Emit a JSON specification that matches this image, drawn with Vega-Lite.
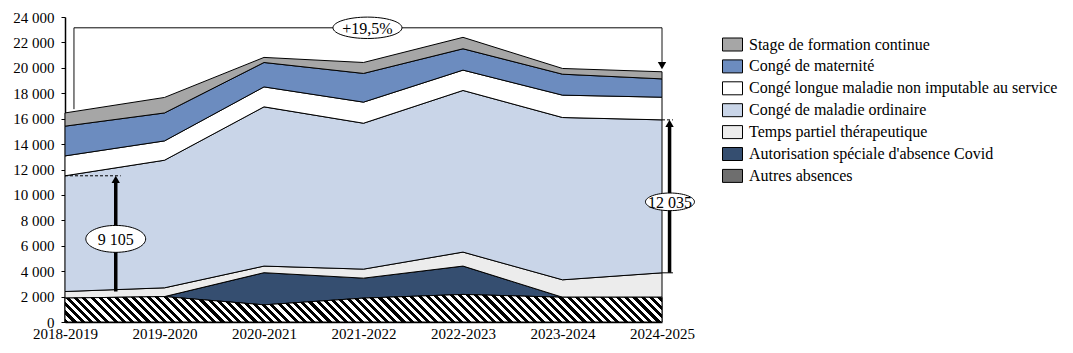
{
  "$schema": "https://vega.github.io/schema/vega-lite/v6.json",
  "autosize": {"type": "none"},
  "padding": {"left": 65, "top": 17, "right": 411, "bottom": 31},
  "width": 597,
  "height": 305,
  "background": "white",
  "config": {
    "view": {"stroke": null},
    "font": "Liberation Serif",
    "axis": {"labelFont": "Liberation Serif", "labelColor": "black", "domainColor": "black", "tickColor": "black", "grid": false},
    "axisY": {"labelOverlap": false, "labelSeparation": 0},
    "legend": {"labelFont": "Liberation Serif", "labelColor": "black"}
  },
  "resolve": {"scale": {"shape": "independent", "size": "independent", "strokeDash": "independent"}},
  "datasets": {
    "absences": [
      {"t": 0, "annee": "2018-2019", "serie": "Autres absences", "ordre": 1, "valeur": 1880},
      {"t": 1, "annee": "2019-2020", "serie": "Autres absences", "ordre": 1, "valeur": 2000},
      {"t": 2, "annee": "2020-2021", "serie": "Autres absences", "ordre": 1, "valeur": 1350},
      {"t": 3, "annee": "2021-2022", "serie": "Autres absences", "ordre": 1, "valeur": 1880},
      {"t": 4, "annee": "2022-2023", "serie": "Autres absences", "ordre": 1, "valeur": 2170},
      {"t": 5, "annee": "2023-2024", "serie": "Autres absences", "ordre": 1, "valeur": 1950},
      {"t": 6, "annee": "2024-2025", "serie": "Autres absences", "ordre": 1, "valeur": 1950},
      {"t": 0, "annee": "2018-2019", "serie": "Autorisation spéciale d'absence Covid", "ordre": 2, "valeur": 0},
      {"t": 1, "annee": "2019-2020", "serie": "Autorisation spéciale d'absence Covid", "ordre": 2, "valeur": 0},
      {"t": 2, "annee": "2020-2021", "serie": "Autorisation spéciale d'absence Covid", "ordre": 2, "valeur": 2530},
      {"t": 3, "annee": "2021-2022", "serie": "Autorisation spéciale d'absence Covid", "ordre": 2, "valeur": 1570},
      {"t": 4, "annee": "2022-2023", "serie": "Autorisation spéciale d'absence Covid", "ordre": 2, "valeur": 2230},
      {"t": 5, "annee": "2023-2024", "serie": "Autorisation spéciale d'absence Covid", "ordre": 2, "valeur": 0},
      {"t": 6, "annee": "2024-2025", "serie": "Autorisation spéciale d'absence Covid", "ordre": 2, "valeur": 0},
      {"t": 0, "annee": "2018-2019", "serie": "Temps partiel thérapeutique", "ordre": 3, "valeur": 520},
      {"t": 1, "annee": "2019-2020", "serie": "Temps partiel thérapeutique", "ordre": 3, "valeur": 690},
      {"t": 2, "annee": "2020-2021", "serie": "Temps partiel thérapeutique", "ordre": 3, "valeur": 520},
      {"t": 3, "annee": "2021-2022", "serie": "Temps partiel thérapeutique", "ordre": 3, "valeur": 710},
      {"t": 4, "annee": "2022-2023", "serie": "Temps partiel thérapeutique", "ordre": 3, "valeur": 1100},
      {"t": 5, "annee": "2023-2024", "serie": "Temps partiel thérapeutique", "ordre": 3, "valeur": 1370},
      {"t": 6, "annee": "2024-2025", "serie": "Temps partiel thérapeutique", "ordre": 3, "valeur": 1920},
      {"t": 0, "annee": "2018-2019", "serie": "Congé de maladie ordinaire", "ordre": 4, "valeur": 9105},
      {"t": 1, "annee": "2019-2020", "serie": "Congé de maladie ordinaire", "ordre": 4, "valeur": 10040},
      {"t": 2, "annee": "2020-2021", "serie": "Congé de maladie ordinaire", "ordre": 4, "valeur": 12530},
      {"t": 3, "annee": "2021-2022", "serie": "Congé de maladie ordinaire", "ordre": 4, "valeur": 11480},
      {"t": 4, "annee": "2022-2023", "serie": "Congé de maladie ordinaire", "ordre": 4, "valeur": 12720},
      {"t": 5, "annee": "2023-2024", "serie": "Congé de maladie ordinaire", "ordre": 4, "valeur": 12770},
      {"t": 6, "annee": "2024-2025", "serie": "Congé de maladie ordinaire", "ordre": 4, "valeur": 12035},
      {"t": 0, "annee": "2018-2019", "serie": "Congé longue maladie non imputable au service", "ordre": 5, "valeur": 1565},
      {"t": 1, "annee": "2019-2020", "serie": "Congé longue maladie non imputable au service", "ordre": 5, "valeur": 1520},
      {"t": 2, "annee": "2020-2021", "serie": "Congé longue maladie non imputable au service", "ordre": 5, "valeur": 1570},
      {"t": 3, "annee": "2021-2022", "serie": "Congé longue maladie non imputable au service", "ordre": 5, "valeur": 1660},
      {"t": 4, "annee": "2022-2023", "serie": "Congé longue maladie non imputable au service", "ordre": 5, "valeur": 1600},
      {"t": 5, "annee": "2023-2024", "serie": "Congé longue maladie non imputable au service", "ordre": 5, "valeur": 1760},
      {"t": 6, "annee": "2024-2025", "serie": "Congé longue maladie non imputable au service", "ordre": 5, "valeur": 1785},
      {"t": 0, "annee": "2018-2019", "serie": "Congé de maternité", "ordre": 6, "valeur": 2340},
      {"t": 1, "annee": "2019-2020", "serie": "Congé de maternité", "ordre": 6, "valeur": 2200},
      {"t": 2, "annee": "2020-2021", "serie": "Congé de maternité", "ordre": 6, "valeur": 1920},
      {"t": 3, "annee": "2021-2022", "serie": "Congé de maternité", "ordre": 6, "valeur": 2260},
      {"t": 4, "annee": "2022-2023", "serie": "Congé de maternité", "ordre": 6, "valeur": 1680},
      {"t": 5, "annee": "2023-2024", "serie": "Congé de maternité", "ordre": 6, "valeur": 1650},
      {"t": 6, "annee": "2024-2025", "serie": "Congé de maternité", "ordre": 6, "valeur": 1440},
      {"t": 0, "annee": "2018-2019", "serie": "Stage de formation continue", "ordre": 7, "valeur": 1040},
      {"t": 1, "annee": "2019-2020", "serie": "Stage de formation continue", "ordre": 7, "valeur": 1220},
      {"t": 2, "annee": "2020-2021", "serie": "Stage de formation continue", "ordre": 7, "valeur": 400},
      {"t": 3, "annee": "2021-2022", "serie": "Stage de formation continue", "ordre": 7, "valeur": 860},
      {"t": 4, "annee": "2022-2023", "serie": "Stage de formation continue", "ordre": 7, "valeur": 900},
      {"t": 5, "annee": "2023-2024", "serie": "Stage de formation continue", "ordre": 7, "valeur": 450},
      {"t": 6, "annee": "2024-2025", "serie": "Stage de formation continue", "ordre": 7, "valeur": 560}
    ],
    "segments": [
      {"t": 0.09, "t2": 0.09, "v": 16750, "v2": 23150, "trait": "plein"},
      {"t": 0.09, "t2": 6, "v": 23150, "v2": 23150, "trait": "plein"},
      {"t": 6, "t2": 6, "v": 23150, "v2": 20300, "trait": "plein"},
      {"t": 6, "t2": 6.11, "v": 3870, "v2": 3870, "trait": "plein"},
      {"t": 0, "t2": 0.56, "v": 11505, "v2": 11505, "trait": "tirets"},
      {"t": 6, "t2": 6.11, "v": 15905, "v2": 15905, "trait": "tirets"}
    ],
    "fleches": [
      {"t": 0.51, "v": 2400, "v2": 11150},
      {"t": 6.076, "v": 3870, "v2": 15550}
    ],
    "pointes": [
      {"t": 0.51, "v": 11230, "sens": "haut"},
      {"t": 6.076, "v": 15630, "sens": "haut"},
      {"t": 6, "v": 20180, "sens": "bas"}
    ],
    "etiquettes": [
      {"t": 3.04, "v": 23150, "texte": "+19,5%", "forme": "large"},
      {"t": 0.51, "v": 6540, "texte": "9 105", "forme": "moyenne"},
      {"t": 6.08, "v": 9456, "texte": "12 035", "forme": "etroite"}
    ]
  },
  "layer": [
    {
      "data": {"name": "absences"},
      "mark": {"type": "area", "stroke": "black", "strokeWidth": 1, "fillOpacity": 1, "interpolate": "linear"},
      "encoding": {
        "x": {
          "field": "t", "type": "quantitative", "title": null,
          "scale": {"domain": [0, 6], "nice": false, "zero": false},
          "axis": {
            "values": [0, 1, 2, 3, 4, 5, 6],
            "labelExpr": "['2018-2019','2019-2020','2020-2021','2021-2022','2022-2023','2023-2024','2024-2025'][datum.value]",
            "ticks": false, "labelPadding": 4, "labelFontSize": 15, "domainWidth": 1.5, "labelFlush": false, "labelOverlap": false
          }
        },
        "y": {
          "field": "valeur", "type": "quantitative", "stack": "zero", "title": null,
          "scale": {"domain": [0, 24000], "nice": false},
          "axis": {
            "tickCount": 12,
            "labelExpr": "replace(format(datum.value, ','), ',', ' ')",
            "tickSize": 4, "labelPadding": 7, "labelFontSize": 15, "domainWidth": 1.5, "labelOverlap": false, "labelFlush": false
          }
        },
        "color": {
          "field": "serie", "type": "nominal",
          "scale": {
            "domain": ["Stage de formation continue", "Congé de maternité", "Congé longue maladie non imputable au service", "Congé de maladie ordinaire", "Temps partiel thérapeutique", "Autorisation spéciale d'absence Covid", "Autres absences"],
            "range": ["#a6a6a6", "#6c8cbf", "#ffffff", "#c9d5e8", "#ececec", "#354e70", "#6e6e6e"]
          },
          "legend": {
            "title": null, "orient": "none", "legendX": 657, "legendY": 17,
            "symbolType": "M-1,-0.65H1V0.65H-1Z", "symbolSize": 400,
            "symbolStrokeColor": "black", "symbolStrokeWidth": 1, "symbolOpacity": 1,
            "labelFontSize": 16, "labelLimit": 400, "labelOffset": 6, "rowPadding": 2.9
          }
        },
        "order": {"field": "ordre", "type": "quantitative"}
      }
    },
    {
      "data": {"name": "absences"},
      "transform": [{"filter": "datum.serie === 'Autres absences'"}],
      "mark": {
        "type": "area", "stroke": "black", "strokeWidth": 1, "fillOpacity": 1, "interpolate": "linear",
        "color": {
          "gradient": "linear", "x1": -0.05, "y1": 0.5254, "x2": 1.05, "y2": 0.4746,
          "stops": [
            {"offset": 0, "color": "#000"}, {"offset": 0.00625, "color": "#000"}, {"offset": 0.00625, "color": "#fff"}, {"offset": 0.0125, "color": "#fff"},
            {"offset": 0.0125, "color": "#000"}, {"offset": 0.01875, "color": "#000"}, {"offset": 0.01875, "color": "#fff"}, {"offset": 0.025, "color": "#fff"},
            {"offset": 0.025, "color": "#000"}, {"offset": 0.03125, "color": "#000"}, {"offset": 0.03125, "color": "#fff"}, {"offset": 0.0375, "color": "#fff"},
            {"offset": 0.0375, "color": "#000"}, {"offset": 0.04375, "color": "#000"}, {"offset": 0.04375, "color": "#fff"}, {"offset": 0.05, "color": "#fff"},
            {"offset": 0.05, "color": "#000"}, {"offset": 0.05625, "color": "#000"}, {"offset": 0.05625, "color": "#fff"}, {"offset": 0.0625, "color": "#fff"},
            {"offset": 0.0625, "color": "#000"}, {"offset": 0.06875, "color": "#000"}, {"offset": 0.06875, "color": "#fff"}, {"offset": 0.075, "color": "#fff"},
            {"offset": 0.075, "color": "#000"}, {"offset": 0.08125, "color": "#000"}, {"offset": 0.08125, "color": "#fff"}, {"offset": 0.0875, "color": "#fff"},
            {"offset": 0.0875, "color": "#000"}, {"offset": 0.09375, "color": "#000"}, {"offset": 0.09375, "color": "#fff"}, {"offset": 0.1, "color": "#fff"},
            {"offset": 0.1, "color": "#000"}, {"offset": 0.10625, "color": "#000"}, {"offset": 0.10625, "color": "#fff"}, {"offset": 0.1125, "color": "#fff"},
            {"offset": 0.1125, "color": "#000"}, {"offset": 0.11875, "color": "#000"}, {"offset": 0.11875, "color": "#fff"}, {"offset": 0.125, "color": "#fff"},
            {"offset": 0.125, "color": "#000"}, {"offset": 0.13125, "color": "#000"}, {"offset": 0.13125, "color": "#fff"}, {"offset": 0.1375, "color": "#fff"},
            {"offset": 0.1375, "color": "#000"}, {"offset": 0.14375, "color": "#000"}, {"offset": 0.14375, "color": "#fff"}, {"offset": 0.15, "color": "#fff"},
            {"offset": 0.15, "color": "#000"}, {"offset": 0.15625, "color": "#000"}, {"offset": 0.15625, "color": "#fff"}, {"offset": 0.1625, "color": "#fff"},
            {"offset": 0.1625, "color": "#000"}, {"offset": 0.16875, "color": "#000"}, {"offset": 0.16875, "color": "#fff"}, {"offset": 0.175, "color": "#fff"},
            {"offset": 0.175, "color": "#000"}, {"offset": 0.18125, "color": "#000"}, {"offset": 0.18125, "color": "#fff"}, {"offset": 0.1875, "color": "#fff"},
            {"offset": 0.1875, "color": "#000"}, {"offset": 0.19375, "color": "#000"}, {"offset": 0.19375, "color": "#fff"}, {"offset": 0.2, "color": "#fff"},
            {"offset": 0.2, "color": "#000"}, {"offset": 0.20625, "color": "#000"}, {"offset": 0.20625, "color": "#fff"}, {"offset": 0.2125, "color": "#fff"},
            {"offset": 0.2125, "color": "#000"}, {"offset": 0.21875, "color": "#000"}, {"offset": 0.21875, "color": "#fff"}, {"offset": 0.225, "color": "#fff"},
            {"offset": 0.225, "color": "#000"}, {"offset": 0.23125, "color": "#000"}, {"offset": 0.23125, "color": "#fff"}, {"offset": 0.2375, "color": "#fff"},
            {"offset": 0.2375, "color": "#000"}, {"offset": 0.24375, "color": "#000"}, {"offset": 0.24375, "color": "#fff"}, {"offset": 0.25, "color": "#fff"},
            {"offset": 0.25, "color": "#000"}, {"offset": 0.25625, "color": "#000"}, {"offset": 0.25625, "color": "#fff"}, {"offset": 0.2625, "color": "#fff"},
            {"offset": 0.2625, "color": "#000"}, {"offset": 0.26875, "color": "#000"}, {"offset": 0.26875, "color": "#fff"}, {"offset": 0.275, "color": "#fff"},
            {"offset": 0.275, "color": "#000"}, {"offset": 0.28125, "color": "#000"}, {"offset": 0.28125, "color": "#fff"}, {"offset": 0.2875, "color": "#fff"},
            {"offset": 0.2875, "color": "#000"}, {"offset": 0.29375, "color": "#000"}, {"offset": 0.29375, "color": "#fff"}, {"offset": 0.3, "color": "#fff"},
            {"offset": 0.3, "color": "#000"}, {"offset": 0.30625, "color": "#000"}, {"offset": 0.30625, "color": "#fff"}, {"offset": 0.3125, "color": "#fff"},
            {"offset": 0.3125, "color": "#000"}, {"offset": 0.31875, "color": "#000"}, {"offset": 0.31875, "color": "#fff"}, {"offset": 0.325, "color": "#fff"},
            {"offset": 0.325, "color": "#000"}, {"offset": 0.33125, "color": "#000"}, {"offset": 0.33125, "color": "#fff"}, {"offset": 0.3375, "color": "#fff"},
            {"offset": 0.3375, "color": "#000"}, {"offset": 0.34375, "color": "#000"}, {"offset": 0.34375, "color": "#fff"}, {"offset": 0.35, "color": "#fff"},
            {"offset": 0.35, "color": "#000"}, {"offset": 0.35625, "color": "#000"}, {"offset": 0.35625, "color": "#fff"}, {"offset": 0.3625, "color": "#fff"},
            {"offset": 0.3625, "color": "#000"}, {"offset": 0.36875, "color": "#000"}, {"offset": 0.36875, "color": "#fff"}, {"offset": 0.375, "color": "#fff"},
            {"offset": 0.375, "color": "#000"}, {"offset": 0.38125, "color": "#000"}, {"offset": 0.38125, "color": "#fff"}, {"offset": 0.3875, "color": "#fff"},
            {"offset": 0.3875, "color": "#000"}, {"offset": 0.39375, "color": "#000"}, {"offset": 0.39375, "color": "#fff"}, {"offset": 0.4, "color": "#fff"},
            {"offset": 0.4, "color": "#000"}, {"offset": 0.40625, "color": "#000"}, {"offset": 0.40625, "color": "#fff"}, {"offset": 0.4125, "color": "#fff"},
            {"offset": 0.4125, "color": "#000"}, {"offset": 0.41875, "color": "#000"}, {"offset": 0.41875, "color": "#fff"}, {"offset": 0.425, "color": "#fff"},
            {"offset": 0.425, "color": "#000"}, {"offset": 0.43125, "color": "#000"}, {"offset": 0.43125, "color": "#fff"}, {"offset": 0.4375, "color": "#fff"},
            {"offset": 0.4375, "color": "#000"}, {"offset": 0.44375, "color": "#000"}, {"offset": 0.44375, "color": "#fff"}, {"offset": 0.45, "color": "#fff"},
            {"offset": 0.45, "color": "#000"}, {"offset": 0.45625, "color": "#000"}, {"offset": 0.45625, "color": "#fff"}, {"offset": 0.4625, "color": "#fff"},
            {"offset": 0.4625, "color": "#000"}, {"offset": 0.46875, "color": "#000"}, {"offset": 0.46875, "color": "#fff"}, {"offset": 0.475, "color": "#fff"},
            {"offset": 0.475, "color": "#000"}, {"offset": 0.48125, "color": "#000"}, {"offset": 0.48125, "color": "#fff"}, {"offset": 0.4875, "color": "#fff"},
            {"offset": 0.4875, "color": "#000"}, {"offset": 0.49375, "color": "#000"}, {"offset": 0.49375, "color": "#fff"}, {"offset": 0.5, "color": "#fff"},
            {"offset": 0.5, "color": "#000"}, {"offset": 0.50625, "color": "#000"}, {"offset": 0.50625, "color": "#fff"}, {"offset": 0.5125, "color": "#fff"},
            {"offset": 0.5125, "color": "#000"}, {"offset": 0.51875, "color": "#000"}, {"offset": 0.51875, "color": "#fff"}, {"offset": 0.525, "color": "#fff"},
            {"offset": 0.525, "color": "#000"}, {"offset": 0.53125, "color": "#000"}, {"offset": 0.53125, "color": "#fff"}, {"offset": 0.5375, "color": "#fff"},
            {"offset": 0.5375, "color": "#000"}, {"offset": 0.54375, "color": "#000"}, {"offset": 0.54375, "color": "#fff"}, {"offset": 0.55, "color": "#fff"},
            {"offset": 0.55, "color": "#000"}, {"offset": 0.55625, "color": "#000"}, {"offset": 0.55625, "color": "#fff"}, {"offset": 0.5625, "color": "#fff"},
            {"offset": 0.5625, "color": "#000"}, {"offset": 0.56875, "color": "#000"}, {"offset": 0.56875, "color": "#fff"}, {"offset": 0.575, "color": "#fff"},
            {"offset": 0.575, "color": "#000"}, {"offset": 0.58125, "color": "#000"}, {"offset": 0.58125, "color": "#fff"}, {"offset": 0.5875, "color": "#fff"},
            {"offset": 0.5875, "color": "#000"}, {"offset": 0.59375, "color": "#000"}, {"offset": 0.59375, "color": "#fff"}, {"offset": 0.6, "color": "#fff"},
            {"offset": 0.6, "color": "#000"}, {"offset": 0.60625, "color": "#000"}, {"offset": 0.60625, "color": "#fff"}, {"offset": 0.6125, "color": "#fff"},
            {"offset": 0.6125, "color": "#000"}, {"offset": 0.61875, "color": "#000"}, {"offset": 0.61875, "color": "#fff"}, {"offset": 0.625, "color": "#fff"},
            {"offset": 0.625, "color": "#000"}, {"offset": 0.63125, "color": "#000"}, {"offset": 0.63125, "color": "#fff"}, {"offset": 0.6375, "color": "#fff"},
            {"offset": 0.6375, "color": "#000"}, {"offset": 0.64375, "color": "#000"}, {"offset": 0.64375, "color": "#fff"}, {"offset": 0.65, "color": "#fff"},
            {"offset": 0.65, "color": "#000"}, {"offset": 0.65625, "color": "#000"}, {"offset": 0.65625, "color": "#fff"}, {"offset": 0.6625, "color": "#fff"},
            {"offset": 0.6625, "color": "#000"}, {"offset": 0.66875, "color": "#000"}, {"offset": 0.66875, "color": "#fff"}, {"offset": 0.675, "color": "#fff"},
            {"offset": 0.675, "color": "#000"}, {"offset": 0.68125, "color": "#000"}, {"offset": 0.68125, "color": "#fff"}, {"offset": 0.6875, "color": "#fff"},
            {"offset": 0.6875, "color": "#000"}, {"offset": 0.69375, "color": "#000"}, {"offset": 0.69375, "color": "#fff"}, {"offset": 0.7, "color": "#fff"},
            {"offset": 0.7, "color": "#000"}, {"offset": 0.70625, "color": "#000"}, {"offset": 0.70625, "color": "#fff"}, {"offset": 0.7125, "color": "#fff"},
            {"offset": 0.7125, "color": "#000"}, {"offset": 0.71875, "color": "#000"}, {"offset": 0.71875, "color": "#fff"}, {"offset": 0.725, "color": "#fff"},
            {"offset": 0.725, "color": "#000"}, {"offset": 0.73125, "color": "#000"}, {"offset": 0.73125, "color": "#fff"}, {"offset": 0.7375, "color": "#fff"},
            {"offset": 0.7375, "color": "#000"}, {"offset": 0.74375, "color": "#000"}, {"offset": 0.74375, "color": "#fff"}, {"offset": 0.75, "color": "#fff"},
            {"offset": 0.75, "color": "#000"}, {"offset": 0.75625, "color": "#000"}, {"offset": 0.75625, "color": "#fff"}, {"offset": 0.7625, "color": "#fff"},
            {"offset": 0.7625, "color": "#000"}, {"offset": 0.76875, "color": "#000"}, {"offset": 0.76875, "color": "#fff"}, {"offset": 0.775, "color": "#fff"},
            {"offset": 0.775, "color": "#000"}, {"offset": 0.78125, "color": "#000"}, {"offset": 0.78125, "color": "#fff"}, {"offset": 0.7875, "color": "#fff"},
            {"offset": 0.7875, "color": "#000"}, {"offset": 0.79375, "color": "#000"}, {"offset": 0.79375, "color": "#fff"}, {"offset": 0.8, "color": "#fff"},
            {"offset": 0.8, "color": "#000"}, {"offset": 0.80625, "color": "#000"}, {"offset": 0.80625, "color": "#fff"}, {"offset": 0.8125, "color": "#fff"},
            {"offset": 0.8125, "color": "#000"}, {"offset": 0.81875, "color": "#000"}, {"offset": 0.81875, "color": "#fff"}, {"offset": 0.825, "color": "#fff"},
            {"offset": 0.825, "color": "#000"}, {"offset": 0.83125, "color": "#000"}, {"offset": 0.83125, "color": "#fff"}, {"offset": 0.8375, "color": "#fff"},
            {"offset": 0.8375, "color": "#000"}, {"offset": 0.84375, "color": "#000"}, {"offset": 0.84375, "color": "#fff"}, {"offset": 0.85, "color": "#fff"},
            {"offset": 0.85, "color": "#000"}, {"offset": 0.85625, "color": "#000"}, {"offset": 0.85625, "color": "#fff"}, {"offset": 0.8625, "color": "#fff"},
            {"offset": 0.8625, "color": "#000"}, {"offset": 0.86875, "color": "#000"}, {"offset": 0.86875, "color": "#fff"}, {"offset": 0.875, "color": "#fff"},
            {"offset": 0.875, "color": "#000"}, {"offset": 0.88125, "color": "#000"}, {"offset": 0.88125, "color": "#fff"}, {"offset": 0.8875, "color": "#fff"},
            {"offset": 0.8875, "color": "#000"}, {"offset": 0.89375, "color": "#000"}, {"offset": 0.89375, "color": "#fff"}, {"offset": 0.9, "color": "#fff"},
            {"offset": 0.9, "color": "#000"}, {"offset": 0.90625, "color": "#000"}, {"offset": 0.90625, "color": "#fff"}, {"offset": 0.9125, "color": "#fff"},
            {"offset": 0.9125, "color": "#000"}, {"offset": 0.91875, "color": "#000"}, {"offset": 0.91875, "color": "#fff"}, {"offset": 0.925, "color": "#fff"},
            {"offset": 0.925, "color": "#000"}, {"offset": 0.93125, "color": "#000"}, {"offset": 0.93125, "color": "#fff"}, {"offset": 0.9375, "color": "#fff"},
            {"offset": 0.9375, "color": "#000"}, {"offset": 0.94375, "color": "#000"}, {"offset": 0.94375, "color": "#fff"}, {"offset": 0.95, "color": "#fff"},
            {"offset": 0.95, "color": "#000"}, {"offset": 0.95625, "color": "#000"}, {"offset": 0.95625, "color": "#fff"}, {"offset": 0.9625, "color": "#fff"},
            {"offset": 0.9625, "color": "#000"}, {"offset": 0.96875, "color": "#000"}, {"offset": 0.96875, "color": "#fff"}, {"offset": 0.975, "color": "#fff"},
            {"offset": 0.975, "color": "#000"}, {"offset": 0.98125, "color": "#000"}, {"offset": 0.98125, "color": "#fff"}, {"offset": 0.9875, "color": "#fff"},
            {"offset": 0.9875, "color": "#000"}, {"offset": 0.99375, "color": "#000"}, {"offset": 0.99375, "color": "#fff"}, {"offset": 1, "color": "#fff"}
          ]
        }
      },
      "encoding": {
        "x": {"field": "t", "type": "quantitative", "title": null},
        "y": {"field": "valeur", "type": "quantitative", "stack": null, "title": null}
      }
    },
    {
      "data": {"name": "segments"},
      "mark": {"type": "rule", "color": "black", "strokeWidth": 1},
      "encoding": {
        "x": {"field": "t", "type": "quantitative", "title": null},
        "x2": {"field": "t2"},
        "y": {"field": "v", "type": "quantitative", "title": null},
        "y2": {"field": "v2"},
        "strokeDash": {"field": "trait", "type": "nominal", "scale": {"domain": ["plein", "tirets"], "range": [[1, 0], [3, 2]]}, "legend": null}
      }
    },
    {
      "data": {"name": "fleches"},
      "mark": {"type": "rule", "color": "black", "strokeWidth": 3.5},
      "encoding": {
        "x": {"field": "t", "type": "quantitative", "title": null},
        "y": {"field": "v", "type": "quantitative", "title": null},
        "y2": {"field": "v2"}
      }
    },
    {
      "data": {"name": "pointes"},
      "mark": {"type": "point", "filled": true, "color": "black", "opacity": 1},
      "encoding": {
        "x": {"field": "t", "type": "quantitative", "title": null},
        "y": {"field": "v", "type": "quantitative", "title": null},
        "shape": {"field": "sens", "type": "nominal", "scale": {"domain": ["haut", "bas"], "range": ["triangle-up", "triangle-down"]}, "legend": null},
        "size": {"value": 70}
      }
    },
    {
      "data": {"name": "etiquettes"},
      "mark": {"type": "point", "filled": true, "fill": "white", "stroke": "black", "strokeWidth": 1, "opacity": 1},
      "encoding": {
        "x": {"field": "t", "type": "quantitative", "title": null},
        "y": {"field": "v", "type": "quantitative", "title": null},
        "shape": {"field": "forme", "type": "nominal", "scale": {"domain": ["large", "moyenne", "etroite"], "range": ["M-1,0A1,0.31 0 1,1 1,0A1,0.31 0 1,1 -1,0Z", "M-1,0A1,0.45 0 1,1 1,0A1,0.45 0 1,1 -1,0Z", "M-1,0A1,0.36 0 1,1 1,0A1,0.36 0 1,1 -1,0Z"]}, "legend": null},
        "size": {"field": "forme", "type": "nominal", "scale": {"domain": ["large", "moyenne", "etroite"], "range": [4761, 2400, 3249]}, "legend": null}
      }
    },
    {
      "data": {"name": "etiquettes"},
      "mark": {"type": "text", "font": "Liberation Serif", "fontSize": 16, "color": "black", "baseline": "middle", "align": "center", "dy": 1},
      "encoding": {
        "x": {"field": "t", "type": "quantitative", "title": null},
        "y": {"field": "v", "type": "quantitative", "title": null},
        "text": {"field": "texte"}
      }
    }
  ]
}
